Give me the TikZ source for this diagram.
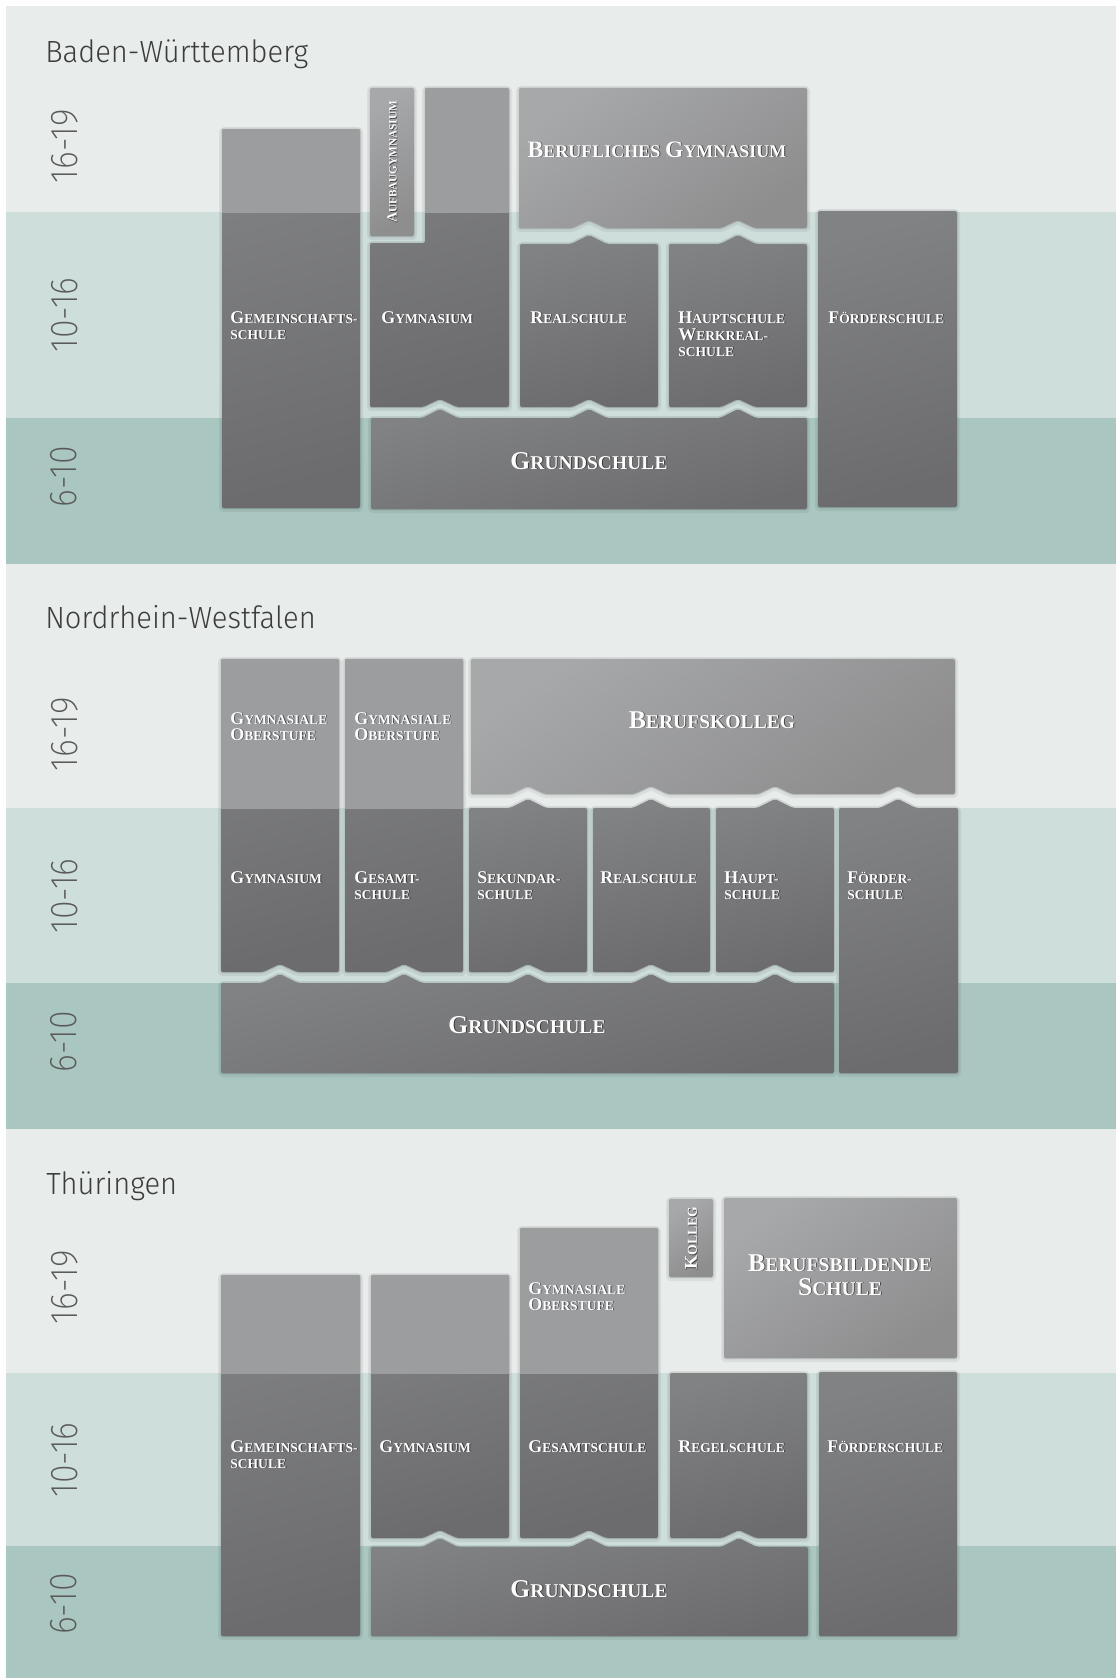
\documentclass[tikz,border=0pt]{standalone}
\usepackage{fontspec}
\IfFontExistsTF{Fira Sans Light}{\newfontfamily\titlefont{Fira Sans Light}[FakeStretch=0.95]}{\newfontfamily\titlefont{Fira Sans}[FakeStretch=0.95]}
\IfFontExistsTF{Fira Sans ExtraLight}{\newfontfamily\agefont{Fira Sans ExtraLight}[FakeStretch=0.88]}{%
  \IfFontExistsTF{Fira Sans Thin}{\newfontfamily\agefont{Fira Sans Thin}[FakeStretch=0.88]}{%
    \IfFontExistsTF{Fira Sans Light}{\newfontfamily\agefont{Fira Sans Light}[FakeStretch=0.88]}{\newfontfamily\agefont{Fira Sans}[FakeStretch=0.88]}}}
\newfontfamily\labfont{Liberation Serif}
\definecolor{bandA}{HTML}{E8EDEC}
\definecolor{bandB}{HTML}{CEDEDB}
\definecolor{bandC}{HTML}{AAC6C1}
\definecolor{dkTop}{HTML}{818284}
\definecolor{dkBot}{HTML}{6C6C6E}
\definecolor{ltTop}{HTML}{A7A8AA}
\definecolor{ltBot}{HTML}{8E8E8F}
\definecolor{ltFlat}{HTML}{9C9D9F}
\definecolor{titlegray}{HTML}{3C3C3C}
\definecolor{agegray}{HTML}{5A5A5A}
% chevron pieces
\newcommand\bump[2]{-- (#1-18,#2) -- (#1,#2-9) -- (#1+18,#2)}
\newcommand\notch[2]{-- (#1+17,#2) -- (#1,#2-8) -- (#1-17,#2)}
% box drawing
\newcommand\darkbox[1]{\path[boxshadow] #1; \path[darkfill] #1;}
\newcommand\lightbox[1]{\path[boxshadow] #1; \path[lightfill] #1;}
\newcommand\splitbox[2]{\path[boxshadow] #1; \path[darkfill] #1;
  \begin{scope}\clip (0,0) rectangle (1116,#2); \path[lightflat] #1;\end{scope}}
% faux small caps
\newcommand\smc[2]{{\fontsize{13.5pt}{16pt}\selectfont #1}{\fontsize{10.2pt}{16pt}\selectfont #2}}
\newcommand\bigc[2]{{\fontsize{19.3pt}{20pt}\selectfont #1}{\fontsize{14.7pt}{20pt}\selectfont #2}}
\newcommand\midc[2]{{\fontsize{17.8pt}{20pt}\selectfont #1}{\fontsize{13.5pt}{20pt}\selectfont #2}}
\newcommand\tinyc[2]{{\fontsize{10.5pt}{12pt}\selectfont #1}{\fontsize{8.4pt}{12pt}\selectfont #2}}
% label with text shadow
\newcommand\labl[5][base west]{%
  \node[lblsh,anchor=#1] at (#3+0.9,#4+0.9) {#5};
  \node[lbl,anchor=#1] (#2) at (#3,#4) {#5};}
\newcommand\rlabl[4]{%
  \node[lblsh,rotate=90] at (#2+0.9,#3+0.9) {#4};
  \node[lbl,rotate=90] (#1) at (#2,#3) {#4};}
\begin{document}
\begin{tikzpicture}[x=0.75pt,y=-0.75pt,
  boxshadow/.style={rounded corners=1.5pt, line join=round, draw=black, draw opacity=0.06,
     line width=4.5pt, fill=black, fill opacity=0.08,
     preaction={draw=black, draw opacity=0.06, line width=2pt},
     transform canvas={yshift=-0.9pt}},
  darkfill/.style={rounded corners=1.5pt, top color=dkTop, bottom color=dkBot, shading angle=15},
  lightfill/.style={rounded corners=1.5pt, top color=ltTop, bottom color=ltBot, shading angle=35},
  lightflat/.style={rounded corners=1.5pt, fill=ltFlat},
  lbl/.style={text=white, inner sep=0pt, font=\labfont\bfseries},
  lblsh/.style={text=black, text opacity=0.55, inner sep=0pt, font=\labfont\bfseries},
  ttl/.style={anchor=base west, inner sep=0pt, text=titlegray, font=\titlefont\fontsize{23pt}{23pt}\selectfont},
  age/.style={rotate=90, inner sep=0pt, text=agegray, font=\agefont\fontsize{29pt}{29pt}\selectfont}]
\useasboundingbox (0,0) rectangle (1116,1678);
\fill[white] (0,0) rectangle (1116,1678);
% ---------------- bands
\fill[bandA] (6,6) rectangle (1116,212);
\fill[bandB] (6,212) rectangle (1116,418);
\fill[bandC] (6,418) rectangle (1116,564);
\fill[bandA] (6,564) rectangle (1116,808);
\fill[bandB] (6,808) rectangle (1116,983);
\fill[bandC] (6,983) rectangle (1116,1129);
\fill[bandA] (6,1129) rectangle (1116,1373);
\fill[bandB] (6,1373) rectangle (1116,1546);
\fill[bandC] (6,1546) rectangle (1116,1678);
% ---------------- titles and ages
\node[ttl] (tBW) at (45,62) {Baden-Württemberg};
\node[ttl] (tNRW) at (45,628) {Nordrhein-Westfalen};
\node[ttl] (tTH) at (46,1194) {Thüringen};
\node[age] (aBW1) at (65,146) {16-19};
\node[age] (aBW2) at (65,315) {10-16};
\node[age] (aBW3) at (64,477) {6-10};
\node[age] (aNW1) at (65,734) {16-19};
\node[age] (aNW2) at (65,896) {10-16};
\node[age] (aNW3) at (64,1042) {6-10};
\node[age] (aTH1) at (65,1287) {16-19};
\node[age] (aTH2) at (65,1460) {10-16};
\node[age] (aTH3) at (64,1604) {6-10};
% ================= Baden-Wuerttemberg
\splitbox{(222,129) rectangle (360,508)}{212}
\lightbox{(370,88) rectangle (414,236)}
\splitbox{(425,88) -- (509,88) -- (509,407) \notch{440}{407} -- (370,407) -- (370,243) -- (425,243) -- cycle}{212}
\lightbox{(519,88) -- (807,88) -- (807,228) \notch{738}{228} \notch{589}{228} -- (519,228) -- cycle}
\darkbox{(520,244) \bump{589}{244} -- (658,244) -- (658,407) \notch{589}{407} -- (520,407) -- cycle}
\darkbox{(669,244) \bump{738}{244} -- (807,244) -- (807,407) \notch{738}{407} -- (669,407) -- cycle}
\darkbox{(818,211) rectangle (957,507)}
\darkbox{(371,418) \bump{440}{418} \bump{589}{418} \bump{738}{418} -- (807,418) -- (807,509) -- (371,509) -- cycle}
\rlabl{bwAuf}{392}{162}{\tinyc{A}{UFBAUGYMNASIUM}}
\labl[base]{bwBG}{657}{157}{\midc{B}{ERUFLICHES}\hspace{1pt} \midc{G}{YMNASIUM}}
\labl{bwGem}{230}{323}{\smc{G}{EMEINSCHAFTS-}}
\labl{bwGemb}{230}{339}{\smc{}{SCHULE}}
\labl{bwGym}{381}{323}{\smc{G}{YMNASIUM}}
\labl{bwReal}{530}{323}{\smc{R}{EALSCHULE}}
\labl{bwHaupt}{678}{323}{\smc{H}{AUPTSCHULE}}
\labl{bwHauptb}{678}{340}{\smc{W}{ERKREAL-}}
\labl{bwHauptc}{678}{356}{\smc{}{SCHULE}}
\labl{bwFoer}{828}{323}{\smc{F}{ÖRDERSCHULE}}
\labl[base]{bwGrund}{589}{469}{\bigc{G}{RUNDSCHULE}}
% ================= Nordrhein-Westfalen
\splitbox{(221,659) -- (339,659) -- (339,972) \notch{280}{972} -- (221,972) -- cycle}{808}
\splitbox{(345,659) -- (463,659) -- (463,972) \notch{404}{972} -- (345,972) -- cycle}{808}
\lightbox{(471,659) -- (955,659) -- (955,794) \notch{898}{794} \notch{775}{794} \notch{651}{794} \notch{528}{794} -- (471,794) -- cycle}
\darkbox{(469,808) \bump{528}{808} -- (587,808) -- (587,972) \notch{528}{972} -- (469,972) -- cycle}
\darkbox{(593,808) \bump{651}{808} -- (710,808) -- (710,972) \notch{651}{972} -- (593,972) -- cycle}
\darkbox{(716,808) \bump{775}{808} -- (834,808) -- (834,972) \notch{775}{972} -- (716,972) -- cycle}
\darkbox{(839,808) \bump{898}{808} -- (958,808) -- (958,1073) -- (839,1073) -- cycle}
\darkbox{(221,983) \bump{280}{983} \bump{404}{983} \bump{528}{983} \bump{651}{983} \bump{775}{983} -- (834,983) -- (834,1073) -- (221,1073) -- cycle}
\labl{nwGO1}{230}{724}{\smc{G}{YMNASIALE}}
\labl{nwGO1b}{230}{740}{\smc{O}{BERSTUFE}}
\labl{nwGO2}{354}{724}{\smc{G}{YMNASIALE}}
\labl{nwGO2b}{354}{740}{\smc{O}{BERSTUFE}}
\labl[base]{nwBK}{712}{728}{\bigc{B}{ERUFSKOLLEG}}
\labl{nwGym}{230}{883}{\smc{G}{YMNASIUM}}
\labl{nwGes}{354}{883}{\smc{G}{ESAMT-}}
\labl{nwGesb}{354}{899}{\smc{}{SCHULE}}
\labl{nwSek}{477}{883}{\smc{S}{EKUNDAR-}}
\labl{nwSekb}{477}{899}{\smc{}{SCHULE}}
\labl{nwReal}{600}{883}{\smc{R}{EALSCHULE}}
\labl{nwHaupt}{724}{883}{\smc{H}{AUPT-}}
\labl{nwHauptb}{724}{899}{\smc{}{SCHULE}}
\labl{nwFoer}{847}{883}{\smc{F}{ÖRDER-}}
\labl{nwFoerb}{847}{899}{\smc{}{SCHULE}}
\labl[base]{nwGrund}{527}{1033}{\bigc{G}{RUNDSCHULE}}
% ================= Thueringen
\splitbox{(221,1275) rectangle (360,1636)}{1373}
\splitbox{(371,1275) -- (509,1275) -- (509,1538) \notch{440}{1538} -- (371,1538) -- cycle}{1373}
\splitbox{(520,1228) -- (658,1228) -- (658,1538) \notch{589}{1538} -- (520,1538) -- cycle}{1373}
\lightbox{(669,1199) rectangle (713,1277)}
\lightbox{(724,1198) rectangle (957,1358)}
\darkbox{(670,1373) -- (807,1373) -- (807,1538) \notch{739}{1538} -- (670,1538) -- cycle}
\darkbox{(819,1372) rectangle (957,1636)}
\darkbox{(371,1547) \bump{440}{1547} \bump{589}{1547} \bump{739}{1547} -- (808,1547) -- (808,1636) -- (371,1636) -- cycle}
\labl{thGO}{528}{1294}{\smc{G}{YMNASIALE}}
\labl{thGOb}{528}{1310}{\smc{O}{BERSTUFE}}
\rlabl{thKol}{691}{1238}{\smc{K}{OLLEG}}
\labl[base]{thBS}{840}{1271}{\bigc{B}{ERUFSBILDENDE}}
\labl[base]{thBSb}{840}{1295}{\bigc{S}{CHULE}}
\labl{thGem}{230}{1452}{\smc{G}{EMEINSCHAFTS-}}
\labl{thGemb}{230}{1468}{\smc{}{SCHULE}}
\labl{thGym}{379}{1452}{\smc{G}{YMNASIUM}}
\labl{thGes}{528}{1452}{\smc{G}{ESAMTSCHULE}}
\labl{thReg}{678}{1452}{\smc{R}{EGELSCHULE}}
\labl{thFoer}{827}{1452}{\smc{F}{ÖRDERSCHULE}}
\labl[base]{thGrund}{589}{1597}{\bigc{G}{RUNDSCHULE}}
\end{tikzpicture}
\end{document}
